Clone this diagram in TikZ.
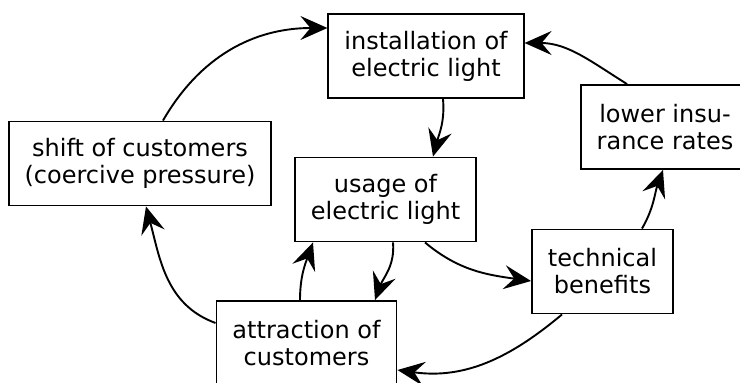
\documentclass[tikz,border=0pt]{standalone}
\usepackage{fontspec}
\setmainfont{DejaVu Sans}
\usepackage{tikz}
\usetikzlibrary{arrows.meta, positioning}

\begin{document}
\begin{tikzpicture}[x=10pt, y=10pt,
  every node/.style={font=\fontsize{24}{27}\selectfont},
  box/.style={draw, line width=1.9pt, align=center, minimum height=84pt,
    inner xsep=16pt, inner ysep=4pt},
  flow/.style={line width=1.9pt, -{Stealth[length=27pt, width=24pt, inset=10pt]}}]
% canvas
\useasboundingbox (0,0) rectangle (74,38.3);
\clip (0,0) rectangle (74,38.3);
% boxes
\node[box] (inst)  at (42.6,32.7)  {installation of\\electric light};
\node[box] (shift) at (14.0,21.95) {shift of customers\\(coercive pressure)};
\node[box] (usage) at (38.55,18.35) {usage of\\electric light};
\node[box] (lower) at (66.5,25.6)  {lower insu-\\rance rates};
\node[box] (tech)  at (60.25,11.15) {technical\\benefits};
\node[box] (attr)  at (30.65,4.0)  {attraction of\\customers};
% arrows
\draw[flow] ([xshift=23pt]shift.north) to[out=60, in=180] ([yshift=28pt]inst.west);
\draw[flow] ([xshift=-38pt]lower.north) to[out=148, in=0] ([yshift=13pt]inst.east);
\draw[flow] ([xshift=17pt]inst.south) to[out=-85, in=75] ([xshift=47.5pt]usage.north);
\draw[flow] ([xshift=39.5pt]usage.south) to[out=-40, in=172] ([yshift=-9.5pt]tech.west);
\draw[flow] ([xshift=39.5pt]tech.north) to[out=60, in=-110] ([xshift=-2pt]lower.south);
\draw[flow] ([xshift=-40.5pt]tech.south) to[out=-140, in=-8] ([yshift=-27pt]attr.east);
\draw[flow] ([xshift=7.5pt]usage.south) to[out=-85, in=70] ([xshift=68.5pt]attr.north);
\draw[flow] ([xshift=-6.5pt]attr.north) to[out=90, in=-110] ([xshift=-72.5pt]usage.south);
\draw[flow] ([yshift=20pt]attr.west) to[out=160, in=-75] ([xshift=6pt]shift.south);
\end{tikzpicture}
\end{document}
